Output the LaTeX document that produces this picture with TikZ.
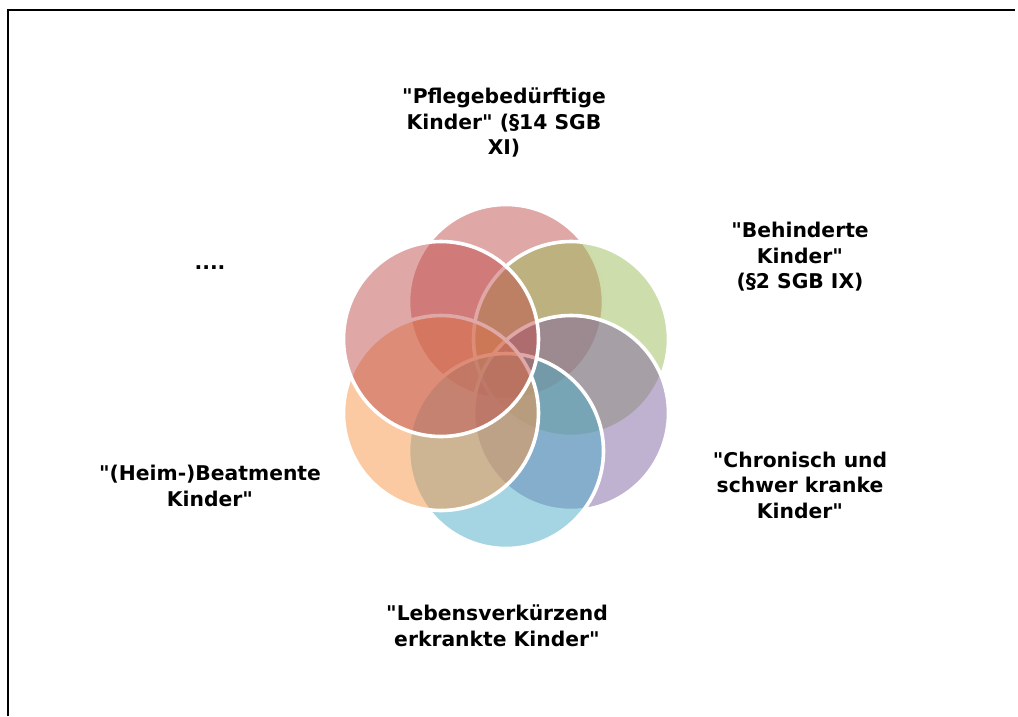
\documentclass[tikz,border=0pt]{standalone}
\usepackage{fontspec}
\setmainfont{DejaVu Sans}[Ligatures=TeXOff]
\newcommand{\dq}{\char34\relax}
\definecolor{acRed}{HTML}{C0504D}
\definecolor{acGreen}{HTML}{9BBB59}
\definecolor{acPurple}{HTML}{8064A2}
\definecolor{acAqua}{HTML}{4BACC6}
\definecolor{acOrange}{HTML}{F79646}
\begin{document}
\begin{tikzpicture}[x=1pt,y=-1pt,
  petal/.style={circle, minimum size=195pt, inner sep=0pt, draw=white, line width=3.6pt, fill opacity=0.5},
  lbl/.style={align=center, inner sep=0pt, font=\fontsize{20.3}{25.5}\selectfont\bfseries}]
\useasboundingbox (0,0) rectangle (1018,716);
\coordinate (fa) at (8,716);
\coordinate (fb) at (8,10);
\coordinate (fc) at (1015,10);
\draw[line width=1.2pt] (fa) -- (fb) -- (fc);
% circles
\node[petal, fill=acRed]    (c1) at (506,302) {};
\node[petal, fill=acGreen]  (c2) at (571,339) {};
\node[petal, fill=acPurple] (c3) at (571,413) {};
\node[petal, fill=acAqua]   (c4) at (506,451) {};
\node[petal, fill=acOrange] (c5) at (441,413) {};
\node[petal, fill=acRed]    (c6) at (441,339) {};
% labels
\node[lbl] (t1) at (504,122.5) {\dq Pflegebedürftige\\Kinder\dq{} (§14 SGB\\XI)};
\node[lbl] (t2) at (800,257) {\dq Behinderte\\Kinder\dq\\(§2 SGB IX)};
\node[lbl] (t3) at (800,485) {\dq Chronisch und\\schwer kranke\\Kinder\dq};
\node[lbl] (t4) at (497,626) {\dq Lebensverkürzend\\erkrankte Kinder\dq};
\node[lbl] (t5) at (210,486) {\dq(Heim-)Beatmente\\Kinder\dq};
\node[lbl] (t6) at (210,268) {....};
\end{tikzpicture}
\end{document}
